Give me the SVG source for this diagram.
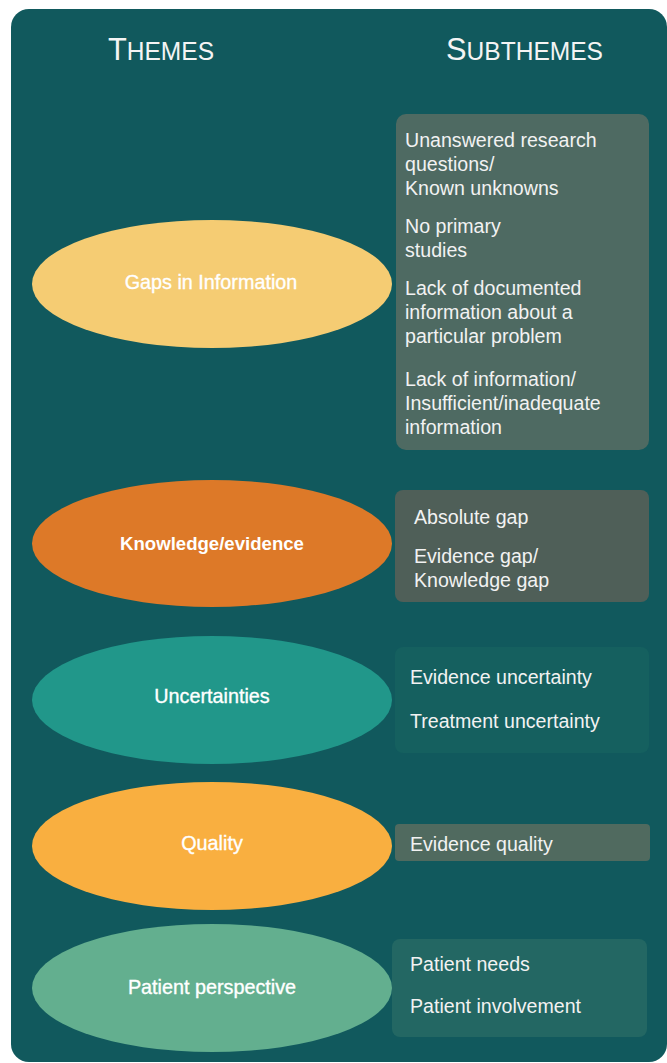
<svg xmlns="http://www.w3.org/2000/svg" width="667" height="1063" viewBox="0 0 667 1063">
<style>
.hdr{font-family:"Liberation Sans",Arial,sans-serif;fill:#f4f4f4}
.big{font-size:32px}
.sm{font-size:25.5px}
.theme{font-family:"Liberation Sans",Arial,sans-serif;font-size:19.8px;fill:#ffffff;text-anchor:middle;stroke:#ffffff;stroke-width:0.35}
.sub{font-family:"Liberation Sans",Arial,sans-serif;font-size:19.6px;fill:#f2f2f2}
</style>
<rect id="background" x="11" y="9" width="656" height="1053" rx="18" ry="18" fill="#11595d"/>
<g id="headers">
<text class="hdr" x="108" y="60" textLength="106" lengthAdjust="spacingAndGlyphs"><tspan class="big">T</tspan><tspan class="sm">HEMES</tspan></text>
<text class="hdr" x="446" y="60" textLength="157" lengthAdjust="spacingAndGlyphs"><tspan class="big">S</tspan><tspan class="sm">UBTHEMES</tspan></text>
</g>
<g id="theme-gaps">
<ellipse cx="212" cy="284" rx="180" ry="64" fill="#f5cc73"/>
<text class="theme" x="211" y="289">Gaps in Information</text>
</g>
<g id="theme-knowledge">
<ellipse cx="212" cy="543.5" rx="180" ry="63.5" fill="#dd7928"/>
<text class="theme" x="212" y="550" style="font-weight:bold;font-size:18.6px;stroke-width:0">Knowledge/evidence</text>
</g>
<g id="theme-uncertainties">
<ellipse cx="212" cy="700" rx="180" ry="64" fill="#21978a"/>
<text class="theme" x="212" y="703">Uncertainties</text>
</g>
<g id="theme-quality">
<ellipse cx="212" cy="846" rx="180" ry="64" fill="#f9af40"/>
<text class="theme" x="212" y="850">Quality</text>
</g>
<g id="theme-patient">
<ellipse cx="212" cy="988" rx="180" ry="64" fill="#63af8f"/>
<text class="theme" x="212" y="994">Patient perspective</text>
</g>
<g id="connectors"/>
<g id="sub-gaps">
<rect x="396" y="114" width="253" height="336" rx="10" fill="#4e6a62"/>
<text class="sub" x="405" y="147">Unanswered research</text>
<text class="sub" x="405" y="171">questions/</text>
<text class="sub" x="405" y="195">Known unknowns</text>
<text class="sub" x="405" y="233">No primary</text>
<text class="sub" x="405" y="257">studies</text>
<text class="sub" x="405" y="295">Lack of documented</text>
<text class="sub" x="405" y="319">information about a</text>
<text class="sub" x="405" y="343">particular problem</text>
<text class="sub" x="405" y="386">Lack of information/</text>
<text class="sub" x="405" y="410">Insufficient/inadequate</text>
<text class="sub" x="405" y="434">information</text>
</g>
<g id="sub-knowledge">
<rect x="395" y="490" width="254" height="112" rx="8" fill="#4f5f58"/>
<text class="sub" x="414" y="524">Absolute gap</text>
<text class="sub" x="414" y="563">Evidence gap/</text>
<text class="sub" x="414" y="587">Knowledge gap</text>
</g>
<g id="sub-uncertainties">
<rect x="395" y="647" width="254" height="106" rx="8" fill="#15605f"/>
<text class="sub" x="410" y="684">Evidence uncertainty</text>
<text class="sub" x="410" y="728">Treatment uncertainty</text>
</g>
<g id="sub-quality">
<rect x="395" y="824" width="255" height="37" rx="4" fill="#506a5f"/>
<text class="sub" x="410" y="851">Evidence quality</text>
</g>
<g id="sub-patient">
<rect x="392" y="939" width="255" height="98" rx="8" fill="#236763"/>
<text class="sub" x="410" y="971">Patient needs</text>
<text class="sub" x="410" y="1013">Patient involvement</text>
</g>
</svg>
